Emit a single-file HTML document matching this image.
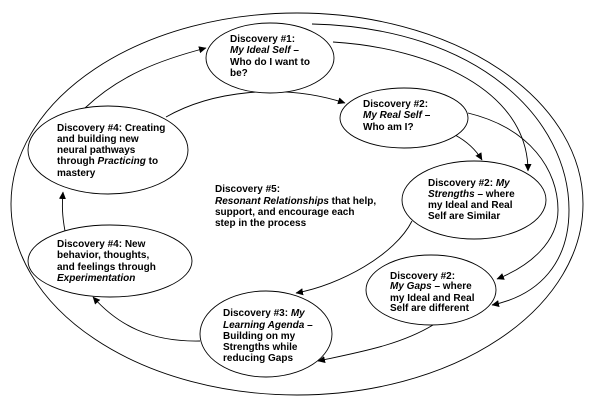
<!DOCTYPE html>
<html><head><meta charset="utf-8"><style>
html,body{margin:0;padding:0;background:#fff;width:603px;height:418px;overflow:hidden}
svg{display:block}
text{font-family:"Liberation Sans",Arial,sans-serif;font-size:10px;font-weight:bold;fill:#000}
.i{font-style:italic}
</style></head><body>
<svg width="603" height="418" viewBox="0 0 603 418" xmlns="http://www.w3.org/2000/svg">
<defs><marker id="a" markerWidth="8" markerHeight="8" refX="7" refY="4" orient="auto" markerUnits="userSpaceOnUse"><path d="M0,0.5 L7.5,4 L0,7.5 Z" fill="#000"/></marker></defs>
<g fill="none" stroke="#000" stroke-width="0.9">
<ellipse cx="297" cy="204" rx="286" ry="191"/>
<path d="M333,42 C430,48 528,90 528,171" marker-end="url(#a)"/>
<path d="M312,24 C480,28 569,120 569,210 C569,262 540,295 492,305" marker-end="url(#a)"/>
<path d="M468,113 C530,128 558,170 558,210 C558,242 530,266 497,279" marker-end="url(#a)"/>
<path d="M85,108 C120,75 160,60 206,48" marker-end="url(#a)"/>
<path d="M166,117 C210,92 280,82 345,103" marker-end="url(#a)"/>
<path d="M455,135 C468,142 476,150 482,160" marker-end="url(#a)"/>
<path d="M412,221 C395,255 340,285 296,293" marker-end="url(#a)"/>
<path d="M433,325 C400,345 360,352 318,361" marker-end="url(#a)"/>
<path d="M200,341 C150,342 118,325 93,297" marker-end="url(#a)"/>
<path d="M65,231 C62,215 62,205 63,192" marker-end="url(#a)"/>
</g>
<g fill="#fff" stroke="#000" stroke-width="0.9">
<ellipse cx="270" cy="58" rx="64" ry="35"/>
<ellipse cx="108" cy="150" rx="80" ry="44"/>
<ellipse cx="404" cy="118" rx="64" ry="30"/>
<ellipse cx="474" cy="200" rx="72" ry="39"/>
<ellipse cx="110" cy="261" rx="82" ry="36"/>
<ellipse cx="431" cy="290" rx="65" ry="35"/>
<ellipse cx="266" cy="334" rx="66" ry="43"/>
</g>
<text x="230" y="42">Discovery #1:</text>
<text x="230" y="53"><tspan class="i">My Ideal Self</tspan> –</text>
<text x="230" y="65">Who do I want to</text>
<text x="230" y="76">be?</text>

<text x="57" y="131">Discovery #4: Creating</text>
<text x="57" y="142">and building new</text>
<text x="57" y="153">neural pathways</text>
<text x="57" y="164">through <tspan class="i">Practicing</tspan> to</text>
<text x="57" y="176">mastery</text>

<text x="363" y="107">Discovery #2:</text>
<text x="363" y="118"><tspan class="i">My Real Self</tspan> –</text>
<text x="363" y="130">Who am I?</text>

<text x="428" y="186">Discovery #2: <tspan class="i">My</tspan></text>
<text x="428" y="197"><tspan class="i">Strengths</tspan> – where</text>
<text x="428" y="208">my Ideal and Real</text>
<text x="428" y="219">Self are Similar</text>

<text x="215" y="192">Discovery #5:</text>
<text x="215" y="204"><tspan class="i">Resonant Relationships</tspan> that help,</text>
<text x="215" y="215">support, and encourage each</text>
<text x="215" y="226">step in the process</text>

<text x="57" y="247">Discovery #4: New</text>
<text x="57" y="258">behavior, thoughts,</text>
<text x="57" y="270">and feelings through</text>
<text x="57" y="281" class="i">Experimentation</text>

<text x="390" y="279">Discovery #2:</text>
<text x="390" y="289"><tspan class="i">My Gaps</tspan> – where</text>
<text x="390" y="301">my Ideal and Real</text>
<text x="390" y="311">Self are different</text>

<text x="223" y="316">Discovery #3: <tspan class="i">My</tspan></text>
<text x="223" y="328"><tspan class="i">Learning Agenda</tspan> –</text>
<text x="223" y="339">Building on my</text>
<text x="223" y="350">Strengths while</text>
<text x="223" y="361">reducing Gaps</text>
</svg>
</body></html>
